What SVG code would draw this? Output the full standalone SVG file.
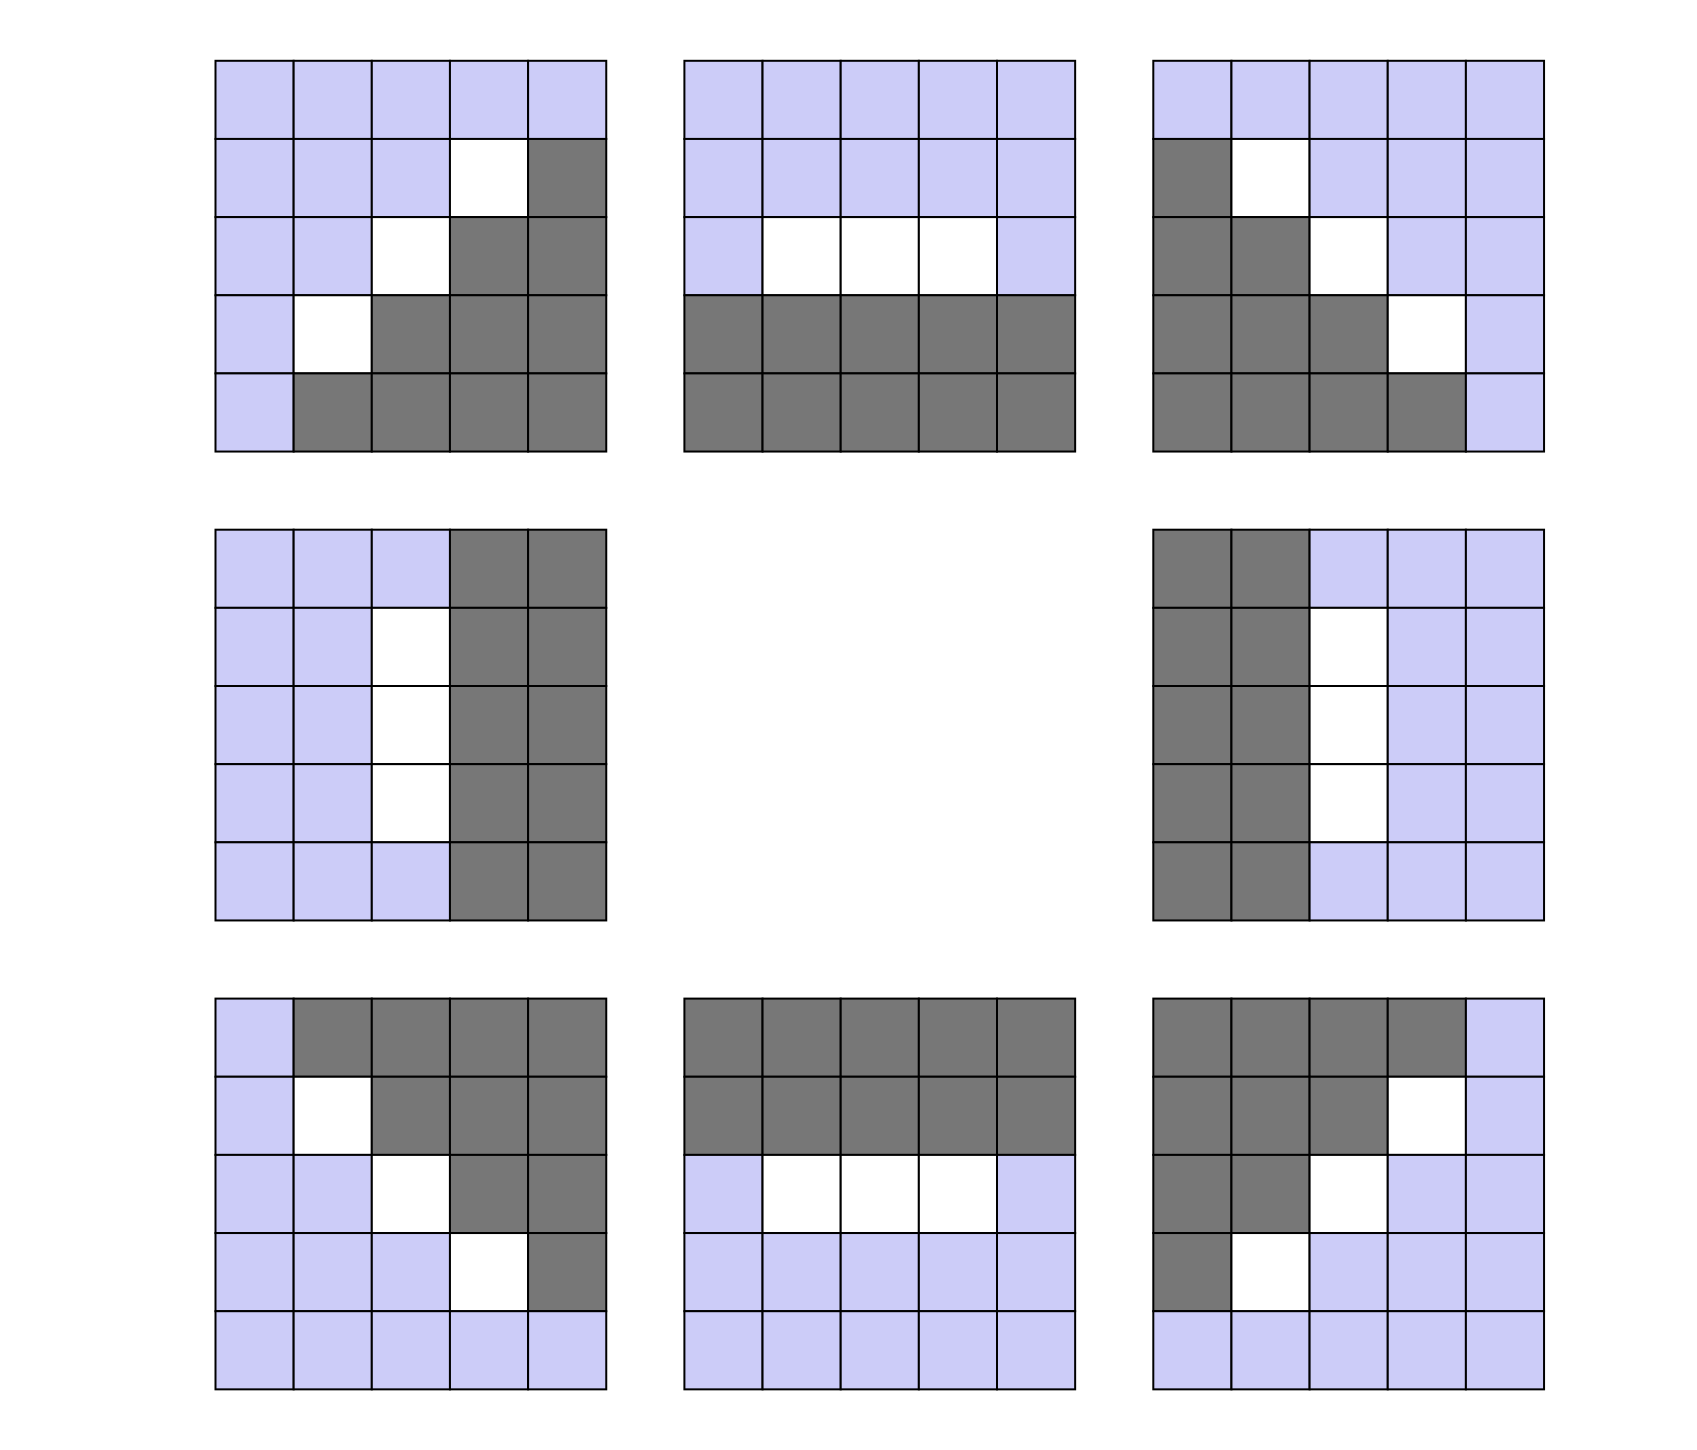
<svg xmlns="http://www.w3.org/2000/svg" width="1697" height="1450" viewBox="0 0 1697 1450">
<style>
rect{width:78.15px;height:78.15px;stroke:#000;stroke-width:2}
.l{fill:#ccccf8}.w{fill:#fff}.g{fill:#777777}
</style>
<rect x="0" y="0" width="1697" height="1450" style="width:1697px;height:1450px;fill:#fff;stroke:none"/>
<g id="grid-top-left" transform="translate(215.5,60.8)">
<rect class="l" x="0" y="0"/><rect class="l" x="78.15" y="0"/><rect class="l" x="156.3" y="0"/><rect class="l" x="234.45" y="0"/><rect class="l" x="312.6" y="0"/>
<rect class="l" x="0" y="78.15"/><rect class="l" x="78.15" y="78.15"/><rect class="l" x="156.3" y="78.15"/><rect class="w" x="234.45" y="78.15"/><rect class="g" x="312.6" y="78.15"/>
<rect class="l" x="0" y="156.3"/><rect class="l" x="78.15" y="156.3"/><rect class="w" x="156.3" y="156.3"/><rect class="g" x="234.45" y="156.3"/><rect class="g" x="312.6" y="156.3"/>
<rect class="l" x="0" y="234.45"/><rect class="w" x="78.15" y="234.45"/><rect class="g" x="156.3" y="234.45"/><rect class="g" x="234.45" y="234.45"/><rect class="g" x="312.6" y="234.45"/>
<rect class="l" x="0" y="312.6"/><rect class="g" x="78.15" y="312.6"/><rect class="g" x="156.3" y="312.6"/><rect class="g" x="234.45" y="312.6"/><rect class="g" x="312.6" y="312.6"/>
</g>
<g id="grid-top-center" transform="translate(684.4,60.8)">
<rect class="l" x="0" y="0"/><rect class="l" x="78.15" y="0"/><rect class="l" x="156.3" y="0"/><rect class="l" x="234.45" y="0"/><rect class="l" x="312.6" y="0"/>
<rect class="l" x="0" y="78.15"/><rect class="l" x="78.15" y="78.15"/><rect class="l" x="156.3" y="78.15"/><rect class="l" x="234.45" y="78.15"/><rect class="l" x="312.6" y="78.15"/>
<rect class="l" x="0" y="156.3"/><rect class="w" x="78.15" y="156.3"/><rect class="w" x="156.3" y="156.3"/><rect class="w" x="234.45" y="156.3"/><rect class="l" x="312.6" y="156.3"/>
<rect class="g" x="0" y="234.45"/><rect class="g" x="78.15" y="234.45"/><rect class="g" x="156.3" y="234.45"/><rect class="g" x="234.45" y="234.45"/><rect class="g" x="312.6" y="234.45"/>
<rect class="g" x="0" y="312.6"/><rect class="g" x="78.15" y="312.6"/><rect class="g" x="156.3" y="312.6"/><rect class="g" x="234.45" y="312.6"/><rect class="g" x="312.6" y="312.6"/>
</g>
<g id="grid-top-right" transform="translate(1153.3,60.8)">
<rect class="l" x="0" y="0"/><rect class="l" x="78.15" y="0"/><rect class="l" x="156.3" y="0"/><rect class="l" x="234.45" y="0"/><rect class="l" x="312.6" y="0"/>
<rect class="g" x="0" y="78.15"/><rect class="w" x="78.15" y="78.15"/><rect class="l" x="156.3" y="78.15"/><rect class="l" x="234.45" y="78.15"/><rect class="l" x="312.6" y="78.15"/>
<rect class="g" x="0" y="156.3"/><rect class="g" x="78.15" y="156.3"/><rect class="w" x="156.3" y="156.3"/><rect class="l" x="234.45" y="156.3"/><rect class="l" x="312.6" y="156.3"/>
<rect class="g" x="0" y="234.45"/><rect class="g" x="78.15" y="234.45"/><rect class="g" x="156.3" y="234.45"/><rect class="w" x="234.45" y="234.45"/><rect class="l" x="312.6" y="234.45"/>
<rect class="g" x="0" y="312.6"/><rect class="g" x="78.15" y="312.6"/><rect class="g" x="156.3" y="312.6"/><rect class="g" x="234.45" y="312.6"/><rect class="l" x="312.6" y="312.6"/>
</g>
<g id="grid-middle-left" transform="translate(215.5,529.7)">
<rect class="l" x="0" y="0"/><rect class="l" x="78.15" y="0"/><rect class="l" x="156.3" y="0"/><rect class="g" x="234.45" y="0"/><rect class="g" x="312.6" y="0"/>
<rect class="l" x="0" y="78.15"/><rect class="l" x="78.15" y="78.15"/><rect class="w" x="156.3" y="78.15"/><rect class="g" x="234.45" y="78.15"/><rect class="g" x="312.6" y="78.15"/>
<rect class="l" x="0" y="156.3"/><rect class="l" x="78.15" y="156.3"/><rect class="w" x="156.3" y="156.3"/><rect class="g" x="234.45" y="156.3"/><rect class="g" x="312.6" y="156.3"/>
<rect class="l" x="0" y="234.45"/><rect class="l" x="78.15" y="234.45"/><rect class="w" x="156.3" y="234.45"/><rect class="g" x="234.45" y="234.45"/><rect class="g" x="312.6" y="234.45"/>
<rect class="l" x="0" y="312.6"/><rect class="l" x="78.15" y="312.6"/><rect class="l" x="156.3" y="312.6"/><rect class="g" x="234.45" y="312.6"/><rect class="g" x="312.6" y="312.6"/>
</g>
<g id="grid-middle-right" transform="translate(1153.3,529.7)">
<rect class="g" x="0" y="0"/><rect class="g" x="78.15" y="0"/><rect class="l" x="156.3" y="0"/><rect class="l" x="234.45" y="0"/><rect class="l" x="312.6" y="0"/>
<rect class="g" x="0" y="78.15"/><rect class="g" x="78.15" y="78.15"/><rect class="w" x="156.3" y="78.15"/><rect class="l" x="234.45" y="78.15"/><rect class="l" x="312.6" y="78.15"/>
<rect class="g" x="0" y="156.3"/><rect class="g" x="78.15" y="156.3"/><rect class="w" x="156.3" y="156.3"/><rect class="l" x="234.45" y="156.3"/><rect class="l" x="312.6" y="156.3"/>
<rect class="g" x="0" y="234.45"/><rect class="g" x="78.15" y="234.45"/><rect class="w" x="156.3" y="234.45"/><rect class="l" x="234.45" y="234.45"/><rect class="l" x="312.6" y="234.45"/>
<rect class="g" x="0" y="312.6"/><rect class="g" x="78.15" y="312.6"/><rect class="l" x="156.3" y="312.6"/><rect class="l" x="234.45" y="312.6"/><rect class="l" x="312.6" y="312.6"/>
</g>
<g id="grid-bottom-left" transform="translate(215.5,998.6)">
<rect class="l" x="0" y="0"/><rect class="g" x="78.15" y="0"/><rect class="g" x="156.3" y="0"/><rect class="g" x="234.45" y="0"/><rect class="g" x="312.6" y="0"/>
<rect class="l" x="0" y="78.15"/><rect class="w" x="78.15" y="78.15"/><rect class="g" x="156.3" y="78.15"/><rect class="g" x="234.45" y="78.15"/><rect class="g" x="312.6" y="78.15"/>
<rect class="l" x="0" y="156.3"/><rect class="l" x="78.15" y="156.3"/><rect class="w" x="156.3" y="156.3"/><rect class="g" x="234.45" y="156.3"/><rect class="g" x="312.6" y="156.3"/>
<rect class="l" x="0" y="234.45"/><rect class="l" x="78.15" y="234.45"/><rect class="l" x="156.3" y="234.45"/><rect class="w" x="234.45" y="234.45"/><rect class="g" x="312.6" y="234.45"/>
<rect class="l" x="0" y="312.6"/><rect class="l" x="78.15" y="312.6"/><rect class="l" x="156.3" y="312.6"/><rect class="l" x="234.45" y="312.6"/><rect class="l" x="312.6" y="312.6"/>
</g>
<g id="grid-bottom-center" transform="translate(684.4,998.6)">
<rect class="g" x="0" y="0"/><rect class="g" x="78.15" y="0"/><rect class="g" x="156.3" y="0"/><rect class="g" x="234.45" y="0"/><rect class="g" x="312.6" y="0"/>
<rect class="g" x="0" y="78.15"/><rect class="g" x="78.15" y="78.15"/><rect class="g" x="156.3" y="78.15"/><rect class="g" x="234.45" y="78.15"/><rect class="g" x="312.6" y="78.15"/>
<rect class="l" x="0" y="156.3"/><rect class="w" x="78.15" y="156.3"/><rect class="w" x="156.3" y="156.3"/><rect class="w" x="234.45" y="156.3"/><rect class="l" x="312.6" y="156.3"/>
<rect class="l" x="0" y="234.45"/><rect class="l" x="78.15" y="234.45"/><rect class="l" x="156.3" y="234.45"/><rect class="l" x="234.45" y="234.45"/><rect class="l" x="312.6" y="234.45"/>
<rect class="l" x="0" y="312.6"/><rect class="l" x="78.15" y="312.6"/><rect class="l" x="156.3" y="312.6"/><rect class="l" x="234.45" y="312.6"/><rect class="l" x="312.6" y="312.6"/>
</g>
<g id="grid-bottom-right" transform="translate(1153.3,998.6)">
<rect class="g" x="0" y="0"/><rect class="g" x="78.15" y="0"/><rect class="g" x="156.3" y="0"/><rect class="g" x="234.45" y="0"/><rect class="l" x="312.6" y="0"/>
<rect class="g" x="0" y="78.15"/><rect class="g" x="78.15" y="78.15"/><rect class="g" x="156.3" y="78.15"/><rect class="w" x="234.45" y="78.15"/><rect class="l" x="312.6" y="78.15"/>
<rect class="g" x="0" y="156.3"/><rect class="g" x="78.15" y="156.3"/><rect class="w" x="156.3" y="156.3"/><rect class="l" x="234.45" y="156.3"/><rect class="l" x="312.6" y="156.3"/>
<rect class="g" x="0" y="234.45"/><rect class="w" x="78.15" y="234.45"/><rect class="l" x="156.3" y="234.45"/><rect class="l" x="234.45" y="234.45"/><rect class="l" x="312.6" y="234.45"/>
<rect class="l" x="0" y="312.6"/><rect class="l" x="78.15" y="312.6"/><rect class="l" x="156.3" y="312.6"/><rect class="l" x="234.45" y="312.6"/><rect class="l" x="312.6" y="312.6"/>
</g>
<g id="connectors"/>
</svg>
